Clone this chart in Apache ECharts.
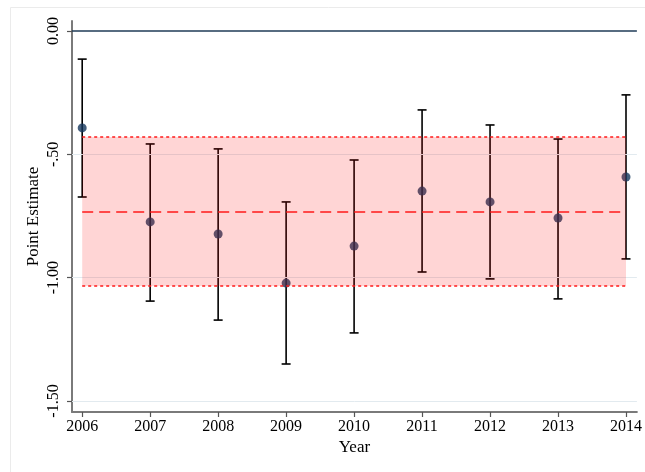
<!DOCTYPE html>
<html>
<head>
<meta charset="utf-8">
<script src="https://cdn.jsdelivr.net/npm/echarts@6/dist/echarts.min.js"></script>
<style>html,body{margin:0;padding:0;background:#fff}#c{width:645px;height:472px}</style>
</head>
<body>
<div id="c"></div>
<script>
var years = [2006, 2007, 2008, 2009, 2010, 2011, 2012, 2013, 2014];
var estimates = [-0.393, -0.774, -0.823, -1.022, -0.872, -0.649, -0.693, -0.758, -0.592];
var ciUpper = [-0.114, -0.458, -0.478, -0.693, -0.523, -0.320, -0.381, -0.438, -0.259];
var ciLower = [-0.673, -1.095, -1.172, -1.350, -1.224, -0.977, -1.005, -1.086, -0.924];
var bandUpper = -0.430;
var bandMean = -0.734;
var bandLower = -1.034;
var yTicks = [0, -0.5, -1.0, -1.5];
var yTickLabels = ['0.00', '-.50', '-1.00', '-1.50'];
var gridValues = [-0.5, -1.0, -1.5];

var font = 'Liberation Serif, Times New Roman, serif';
var chart = echarts.init(document.getElementById('c'), null, {renderer: 'canvas'});

var ebData = years.map(function (y, i) { return [y, ciLower[i], ciUpper[i]]; });
var ptData = years.map(function (y, i) { return [y, estimates[i]]; });
var xFirst = years[0], xLast = years[years.length - 1];

chart.setOption({
  animation: false,
  backgroundColor: '#fff',
  graphic: [{
    type: 'rect', left: 8, top: 5, z: -10,
    shape: {width: 700, height: 500},
    style: {fill: 'none', stroke: '#ebebeb', lineWidth: 1}
  }],
  grid: {left: 72, top: 21, right: 5, bottom: 60, containLabel: false},
  xAxis: {
    type: 'value', min: 2005.85, max: 2014.16,
    name: 'Year', nameLocation: 'middle', nameGap: 27, nameMoveOverlap: false,
    nameTextStyle: {fontFamily: font, fontSize: 17, color: '#000'},
    axisLine: {show: true, onZero: false, lineStyle: {color: '#7a7a7a', width: 2}},
    axisTick: {show: true, length: 5, customValues: years, lineStyle: {color: '#555', width: 1.2}},
    axisLabel: {customValues: years, margin: 7, fontFamily: font, fontSize: 16, color: '#000',
      formatter: function (v) { return String(Math.round(v)); }},
    splitLine: {show: false}
  },
  yAxis: {
    type: 'value', min: -1.5446, max: 0.0405,
    name: 'Point Estimate', nameLocation: 'middle', nameGap: 30, nameMoveOverlap: false,
    nameTextStyle: {fontFamily: font, fontSize: 17, color: '#000'},
    axisLine: {show: true, onZero: false, lineStyle: {color: '#7a7a7a', width: 2}},
    axisTick: {show: true, length: 5, customValues: yTicks, lineStyle: {color: '#555', width: 1.2}},
    axisLabel: {customValues: yTicks, rotate: 90, margin: 10, fontFamily: font, fontSize: 16, color: '#000',
      formatter: function (v) {
        for (var i = 0; i < yTicks.length; i++) { if (Math.abs(yTicks[i] - v) < 1e-6) return yTickLabels[i]; }
        return '';
      }},
    splitLine: {show: false}
  },
  series: [
    {
      type: 'line', data: [], silent: true, z: 1,
      markLine: {
        silent: true, symbol: ['none', 'none'], label: {show: false},
        lineStyle: {color: '#e2eaef', width: 1, type: 'solid'},
        data: gridValues.map(function (v) { return {yAxis: v}; })
      }
    },
    {
      type: 'custom', z: 3,
      renderItem: function (params, api) {
        var x = api.value(0);
        var lo = api.coord([x, api.value(1)]);
        var hi = api.coord([x, api.value(2)]);
        var cw = 4.5;
        var st = {stroke: '#000', lineWidth: 1.6};
        return {type: 'group', children: [
          {type: 'line', shape: {x1: lo[0], y1: lo[1], x2: hi[0], y2: hi[1]}, style: st},
          {type: 'line', shape: {x1: hi[0] - cw, y1: hi[1], x2: hi[0] + cw, y2: hi[1]}, style: st},
          {type: 'line', shape: {x1: lo[0] - cw, y1: lo[1], x2: lo[0] + cw, y2: lo[1]}, style: st}
        ]};
      },
      encode: {x: 0, y: [1, 2]},
      data: ebData
    },
    {
      type: 'scatter', z: 4, symbol: 'circle', symbolSize: 9,
      itemStyle: {color: '#15375c'},
      data: ptData
    },
    {
      type: 'custom', z: 5, silent: true,
      renderItem: function (params, api) {
        var a = api.coord([api.value(0), api.value(2)]);
        var b = api.coord([api.value(1), api.value(3)]);
        return {type: 'rect', shape: {x: a[0], y: a[1], width: b[0] - a[0], height: b[1] - a[1]},
          style: {fill: 'rgba(255,0,0,0.165)'}};
      },
      data: [[xFirst, xLast, bandUpper, bandLower]]
    },
    {
      type: 'line', z: 6, symbol: 'none', silent: true,
      lineStyle: {color: '#ff1a1a', width: 1.6, type: [3, 3]},
      data: [[xFirst, bandUpper], [xLast, bandUpper]]
    },
    {
      type: 'line', z: 6, symbol: 'none', silent: true,
      lineStyle: {color: '#ff1a1a', width: 1.6, type: [3, 3]},
      data: [[xFirst, bandLower], [xLast, bandLower]]
    },
    {
      type: 'line', z: 6, symbol: 'none', silent: true,
      lineStyle: {color: '#ff1a1a', width: 1.6, type: [11, 6]},
      data: [[xFirst, bandMean], [xLast, bandMean]]
    },
    {
      type: 'line', data: [], silent: true, z: 7,
      markLine: {
        silent: true, symbol: ['none', 'none'], label: {show: false},
        lineStyle: {color: '#1f3b57', width: 1.5, type: 'solid'},
        data: [{yAxis: 0}]
      }
    }
  ]
});
</script>
</body>
</html>
